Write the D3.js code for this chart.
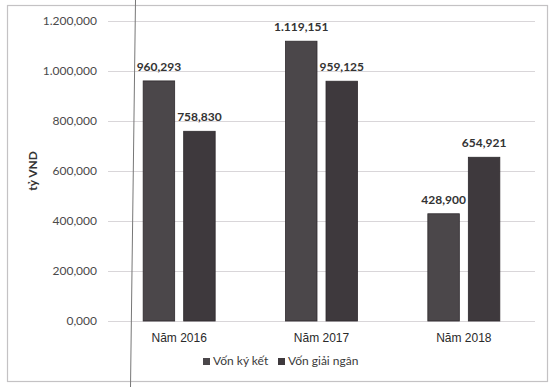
<!DOCTYPE html>
<html><head><meta charset="utf-8">
<script src="https://cdn.jsdelivr.net/npm/d3@7"></script>
<style>html,body{margin:0;padding:0;background:#fff;}svg{display:block;}</style>
</head><body>
<script>
const categories = ["Năm 2016", "Năm 2017", "Năm 2018"];
const seriesNames = ["Vốn ký kết", "Vốn giải ngân"];
const vonKyKet = [960293, 1119151, 428900];
const vonGiaiNgan = [758830, 959125, 654921];
const labelsKyKet = ["960,293", "1.119,151", "428,900"];
const labelsGiaiNgan = ["758,830", "959,125", "654,921"];
const tickValues = [0, 200000, 400000, 600000, 800000, 1000000, 1200000];
const tickLabels = ["0,000", "200,000", "400,000", "600,000", "800,000", "1.000,000", "1.200,000"];
const colors = ["#4b474a", "#3e393d"];

const W = 552, H = 389;
const svg = d3.select("body").append("svg").attr("width", W).attr("height", H);

// frame
svg.append("rect").attr("x", 7.5).attr("y", 5.5).attr("width", 540).attr("height", 376)
  .attr("fill", "#fff").attr("stroke", "#c4c2c4").attr("stroke-width", 1.2);

const x0 = d3.scaleBand().domain(categories).range([108, 535]).paddingInner(0).paddingOuter(0);
const y = d3.scaleLinear().domain([0, 1200000]).range([321, 21]);

// gridlines
svg.append("g").selectAll("line").data(tickValues).join("line")
  .attr("x1", 108).attr("x2", 535)
  .attr("y1", d => y(d) + 0.5).attr("y2", d => y(d) + 0.5)
  .attr("stroke", "#d9d6d9").attr("stroke-width", 1);

// y axis tick labels
const yAxis = d3.axisLeft(y).tickValues(tickValues).tickSize(0).tickPadding(0)
  .tickFormat((d, i) => tickLabels[i]);
const ga = svg.append("g").attr("transform", "translate(97,0)").call(yAxis);
ga.select(".domain").remove();
ga.selectAll("text").attr("font-family", "Lato, 'Open Sans', sans-serif")
  .attr("font-size", 12).attr("fill", "#4a4a4a");

// y title
svg.append("text").attr("transform", "translate(37,171) rotate(-90)")
  .attr("text-anchor", "middle").attr("font-family", "Lato, sans-serif")
  .attr("font-size", 12).attr("font-weight", "bold").attr("fill", "#333").text("tỷ VND");

const barW = 32, gap = 8;
const x1 = d3.scaleBand().domain([0, 1]).range([-(barW + gap / 2), barW + gap / 2]).paddingInner(gap / (barW * 2 + gap) * 2).paddingOuter(0);

const rows = categories.map((c, i) => ({c, vals: [vonKyKet[i], vonGiaiNgan[i]], labs: [labelsKyKet[i], labelsGiaiNgan[i]]}));
const groups = svg.append("g").selectAll("g").data(rows).join("g")
  .attr("transform", d => `translate(${x0(d.c) + x0.bandwidth() / 2},0)`);

groups.selectAll("rect").data(d => d.vals.map((v, k) => ({v, k}))).join("rect")
  .attr("x", d => x1(d.k)).attr("width", x1.bandwidth())
  .attr("y", d => y(d.v)).attr("height", d => y(0) - y(d.v))
  .attr("fill", d => colors[d.k]).attr("stroke", "#2e2a2d").attr("stroke-width", 0.8);

groups.selectAll("text.val").data(d => d.vals.map((v, k) => ({v, k, lab: d.labs[k]}))).join("text")
  .attr("class", "val")
  .attr("x", d => x1(d.k) + x1.bandwidth() / 2).attr("y", d => y(d.v) - 10)
  .attr("text-anchor", "middle").attr("font-family", "Lato, sans-serif")
  .attr("font-size", 12).attr("font-weight", "bold").attr("fill", "#333").text(d => d.lab);

// category labels
svg.append("g").selectAll("text").data(categories).join("text")
  .attr("x", d => x0(d) + x0.bandwidth() / 2).attr("y", 342)
  .attr("text-anchor", "middle").attr("font-family", "'Liberation Sans', Arial, sans-serif")
  .attr("font-size", 12).attr("fill", "#2a2a2a").text(d => d);

// legend
const legX = [203, 278];
const lg = svg.append("g").selectAll("g").data(seriesNames).join("g")
  .attr("transform", (d, i) => `translate(${legX[i]},365)`);
lg.append("rect").attr("x", 0).attr("y", -7).attr("width", 7).attr("height", 7).attr("fill", (d, i) => colors[i]);
lg.append("text").attr("x", 10).attr("y", 0).attr("font-family", "Lato, sans-serif")
  .attr("font-size", 12).attr("fill", "#3a3a3a").text(d => d);

// scan crease line
svg.append("line").attr("x1", 135.5).attr("y1", 0).attr("x2", 130.5).attr("y2", 387)
  .attr("stroke", "#777").attr("stroke-width", 1);
</script>
</body></html>
